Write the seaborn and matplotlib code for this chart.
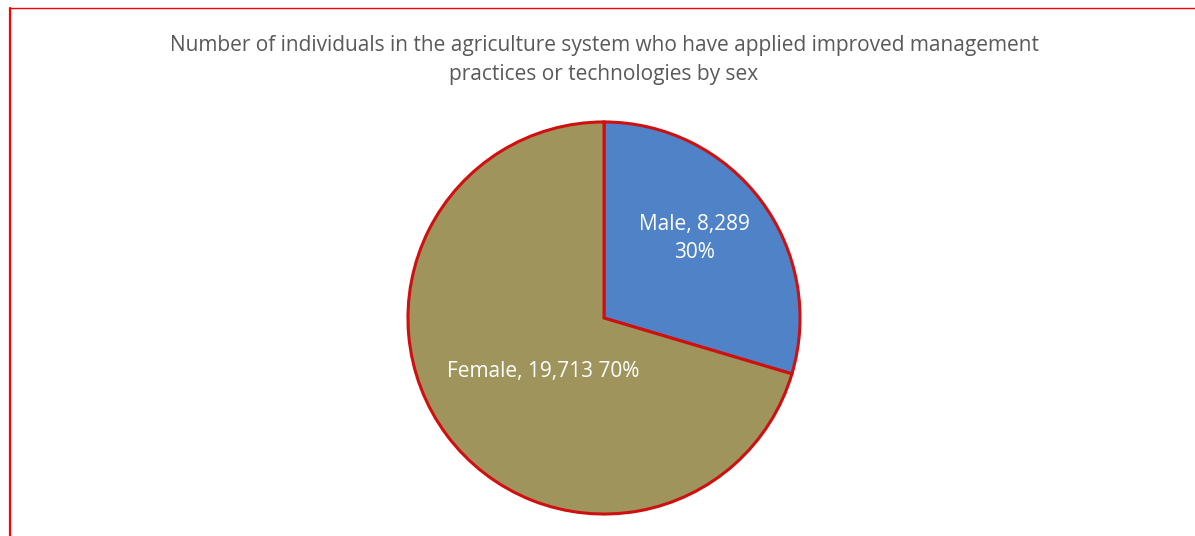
import matplotlib
matplotlib.use("Agg")
import matplotlib.pyplot as plt
import seaborn as sns
from matplotlib.lines import Line2D

categories = ["Male", "Female"]
values = [8289, 19713]
percent_labels = ["30%", "70%"]
colors = ["#4f82c6", "#9e945c"]

sns.set_theme(style="white")
plt.rcParams['font.family'] = ['Open Sans', 'DejaVu Sans']

W, H = 1195, 536
fig = plt.figure(figsize=(W / 100, H / 100), dpi=100)
fig.patch.set_facecolor("white")

cx, cy, r = 604, 318, 198
ax = fig.add_axes([(cx - r) / W, (H - cy - r) / H, 2 * r / W, 2 * r / H])
wedges, _ = ax.pie(values, colors=colors, startangle=90, counterclock=False,
                   radius=1.0,
                   wedgeprops=dict(edgecolor="#d01010", linewidth=2.2))
ax.set_xlim(-1.01, 1.01)
ax.set_ylim(-1.01, 1.01)
ax.set_aspect("equal")
ax.axis("off")

ax.text(0.46, 0.405, f"{categories[0]}, {values[0]:,}\n{percent_labels[0]}",
        ha="center", va="center", color="white", fontsize=15, linespacing=1.45)
ax.text(-0.31, -0.275, f"{categories[1]}, {values[1]:,} {percent_labels[1]}",
        ha="center", va="center", color="white", fontsize=15)

fig.text(604 / W, 1 - 60 / H,
         "Number of individuals in the agriculture system who have applied improved management\npractices or technologies by sex",
         ha="center", va="center", color="#595959", fontsize=15, linespacing=1.55)

# red frame lines (left and top)
fig.add_artist(Line2D([10 / W, 10 / W], [0, 1 - 8 / H], transform=fig.transFigure,
                      color="#ff0000", linewidth=1.6))
fig.add_artist(Line2D([10 / W, 1], [1 - 8 / H, 1 - 8 / H], transform=fig.transFigure,
                      color="#ff0000", linewidth=1.0))

fig.savefig("out.png", dpi=100, facecolor="white")
